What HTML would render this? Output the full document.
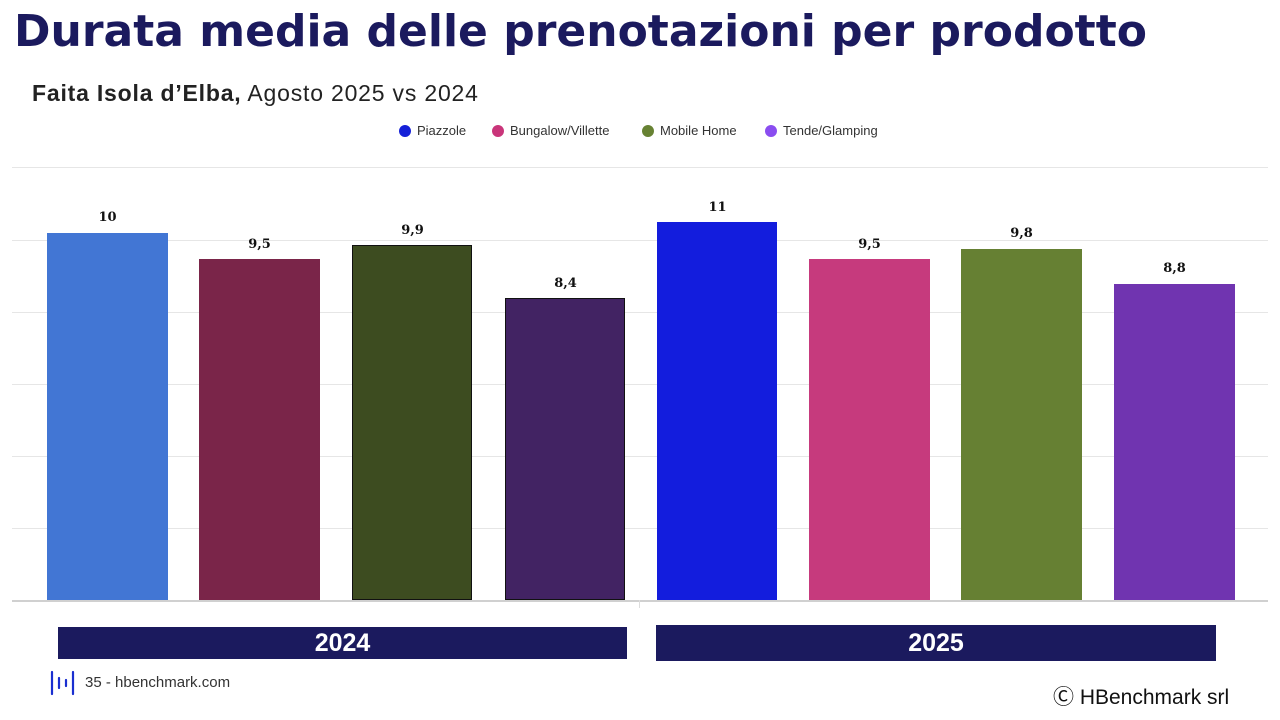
<!DOCTYPE html>
<html><head><meta charset="utf-8"><style>
body{margin:0;width:1280px;height:720px;background:#fff;position:relative;overflow:hidden;font-family:"Liberation Sans",sans-serif}
.a{position:absolute}
.g{position:absolute;left:12px;width:1256px;height:1px;background:#e6e6e6}
.bar{position:absolute;bottom:120px}
.lb{position:absolute;width:121px;text-align:center;font:bold 13px "DejaVu Serif",serif;color:#111}
.yr{position:absolute;background:#1b1a5e;color:#fff;font-weight:bold;font-size:25px;text-align:center}
.lg{position:absolute;top:123px;font-size:13px;color:#333}
.lg i{display:inline-block;width:12px;height:12px;border-radius:50%;vertical-align:-2px;margin-right:6px}
</style></head><body>
<div class="a" style="left:14px;top:6px;font:bold 44px 'DejaVu Sans',sans-serif;color:#1b1a5e;white-space:nowrap">Durata media delle prenotazioni per prodotto</div>
<div class="a" style="left:32px;top:80px;font-size:23px;color:#222;letter-spacing:0.8px"><b>Faita Isola d’Elba,</b> Agosto 2025 vs 2024</div>
<div class="lg" style="left:399px"><i style="background:#1520d8"></i>Piazzole</div>
<div class="lg" style="left:492px"><i style="background:#c9357a"></i>Bungalow/Villette</div>
<div class="lg" style="left:642px"><i style="background:#678233"></i>Mobile Home</div>
<div class="lg" style="left:765px"><i style="background:#8a4df0"></i>Tende/Glamping</div>
<div class="g" style="top:167px"></div><div class="g" style="top:240px"></div><div class="g" style="top:312px"></div><div class="g" style="top:384px"></div><div class="g" style="top:456px"></div><div class="g" style="top:528px"></div>
<div class="g" style="top:600px;background:#d0d0d0;height:2px"></div>
<div class="a" style="left:639px;top:600px;width:1px;height:8px;background:#ddd"></div>
<div class="bar" style="left:47px;width:121px;top:233px;background:#4276d4"></div>
<div class="bar" style="left:199px;width:121px;top:259px;background:#7a2549"></div>
<div class="bar" style="left:352px;width:120px;top:245px;background:#3d4c20;border:1px solid #111;box-sizing:border-box"></div>
<div class="bar" style="left:505px;width:120px;top:298px;background:#422363;border:1px solid #111;box-sizing:border-box"></div>
<div class="bar" style="left:657px;width:120px;top:222px;background:#131ddd"></div>
<div class="bar" style="left:809px;width:121px;top:259px;background:#c63a7d"></div>
<div class="bar" style="left:961px;width:121px;top:249px;background:#668033"></div>
<div class="bar" style="left:1114px;width:121px;top:284px;background:#7034b0"></div>
<div class="lb" style="left:47px;top:210px">10</div>
<div class="lb" style="left:199px;top:237px">9,5</div>
<div class="lb" style="left:352px;top:223px">9,9</div>
<div class="lb" style="left:505px;top:276px">8,4</div>
<div class="lb" style="left:657px;top:200px">11</div>
<div class="lb" style="left:809px;top:237px">9,5</div>
<div class="lb" style="left:961px;top:226px">9,8</div>
<div class="lb" style="left:1114px;top:261px">8,8</div>
<div class="yr" style="left:58px;top:627px;width:569px;height:32px;line-height:32px">2024</div>
<div class="yr" style="left:656px;top:625px;width:560px;height:36px;line-height:36px">2025</div>
<svg class="a" style="left:50px;top:670px" width="26" height="26"><g stroke="#1a2fd0" stroke-width="2.2" stroke-linecap="round"><line x1="2" y1="2" x2="2" y2="24"/><line x1="9" y1="8" x2="9" y2="18"/><line x1="16" y1="10" x2="16" y2="16"/><line x1="23" y1="2" x2="23" y2="24"/></g></svg>
<div class="a" style="left:85px;top:674px;font-size:15px;color:#333">35 - hbenchmark.com</div>
<div class="a" style="left:1053px;top:681px;font-size:21px;color:#111">Ⓒ HBenchmark srl</div>
</body></html>
